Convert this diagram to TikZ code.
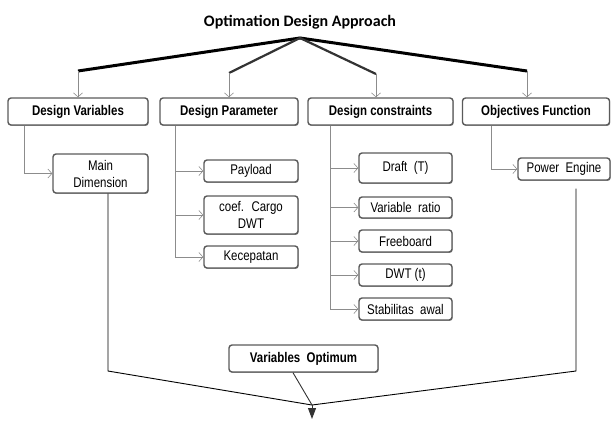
\documentclass[tikz,border=0pt]{standalone}
\usepackage{fontspec}
\newfontfamily\lblfont[FakeStretch=0.82]{Liberation Sans}
\newfontfamily\ttlfont{Carlito}
\usetikzlibrary{arrows.meta,calc,shadows}
\definecolor{boxline}{RGB}{90,90,90}
\definecolor{conn}{RGB}{140,140,140}
\tikzset{
  box/.style={draw=boxline, line width=1.4pt, rounded corners=3pt, fill=white,
    drop shadow={shadow xshift=0.7pt, shadow yshift=-0.9pt, fill=black!55, opacity=0.8},
    inner sep=0pt, align=center, font=\lblfont\fontsize{14}{17}\selectfont},
  hbox/.style={box, font=\lblfont\bfseries\fontsize{14}{17}\selectfont},
  garrow/.style={draw=conn, line width=0.6pt, -{Straight Barb[length=4pt,width=9pt]}},
  thickline/.style={draw=black, line width=3pt},
  midline/.style={draw=black!80, line width=2.2pt},
  botline/.style={draw=black, line width=0.9pt}
}
\begin{document}
\begin{tikzpicture}[x=1pt,y=-1pt]
\useasboundingbox (0,0) rectangle (612,420);
\node[font=\ttlfont\bfseries\fontsize{16}{19}\selectfont] (title) at (300,22) {Optimation Design Approach};
\coordinate (apex) at (300,38);
\coordinate (b1) at (78,71);
\coordinate (b2) at (229,73);
\coordinate (b3) at (376,74);
\coordinate (b4) at (527,71);
\draw[thickline] (b1) -- (apex) -- (b4);
\draw[midline] (b2) -- (apex) -- (b3);

\node[hbox, minimum width=140pt, minimum height=27pt] (dv) at (78,111.5) {Design Variables};
\node[hbox, minimum width=138pt, minimum height=27pt] (dp) at (229,111.5) {Design Parameter};
\node[hbox, minimum width=145pt, minimum height=27pt] (dc) at (380.5,111.5) {Design constraints};
\node[hbox, minimum width=147pt, minimum height=27pt] (of) at (536,111.5) {Objectives Function};

\draw[garrow] (b1) -- (dv.north);
\draw[garrow] (b2) -- (dp.north);
\draw[garrow] (b3) -- (b3 |- dc.north);
\draw[garrow] (b4) -- (b4 |- of.north);

\node[box, minimum width=95pt, minimum height=39pt] (md) at (100.5,173.5) {Main\\Dimension};

\node[box, minimum width=94pt, minimum height=22pt] (pay) at (251,171) {Payload};
\node[box, minimum width=94pt, minimum height=38pt] (coef) at (251,215) {coef.~ Cargo\\DWT};
\node[box, minimum width=94pt, minimum height=22pt] (kec) at (251,257) {Kecepatan};

\node[box, minimum width=93pt, minimum height=30pt] (draft) at (405.5,168) {Draft~ (T)};
\node[box, minimum width=93pt, minimum height=21pt] (vr) at (405.5,207.5) {Variable~ ratio};
\node[box, minimum width=93pt, minimum height=22pt] (fb) at (405.5,241) {Freeboard};
\node[box, minimum width=93pt, minimum height=22pt] (dwt) at (405.5,275) {DWT (t)};
\node[box, minimum width=93pt, minimum height=22pt] (stab) at (405.5,309) {Stabilitas~ awal};

\node[box, minimum width=92pt, minimum height=22pt] (pe) at (564,169) {Power~ Engine};

\node[hbox, minimum width=149pt, minimum height=27pt] (vo) at (303.5,358.5) {Variables~ Optimum};

% side connectors
\draw[garrow] ([xshift=17pt]dv.south west) |- (md.west);
\coordinate (dpx) at ([xshift=16pt]dp.south west);
\draw[draw=conn, line width=0.6pt] (dpx) -- (dpx |- kec.west);
\draw[garrow] (dpx) |- (pay.west);
\draw[garrow] (dpx) |- (coef.west);
\draw[garrow] (dpx) |- (kec.west);
\coordinate (dcx) at ([xshift=23pt]dc.south west);
\draw[draw=conn, line width=0.6pt] (dcx) -- (dcx |- stab.west);
\draw[garrow] (dcx) |- (draft.west);
\draw[garrow] (dcx) |- (vr.west);
\draw[garrow] (dcx) |- (fb.west);
\draw[garrow] (dcx) |- (dwt.west);
\draw[garrow] (dcx) |- (stab.west);
\draw[garrow] ([xshift=29pt]of.south west) |- (pe.west);

% bottom convergence
\coordinate (cl) at (108,371);
\coordinate (cr) at (576,371);
\coordinate (conv) at (312,405);
\coordinate (fin) at (312,419);
\draw[botline] ([xshift=7.5pt]md.south) -- (cl) -- (conv) -- (cr) -- ([xshift=12pt,yshift=-8pt]pe.south);
\draw[botline, draw=black!80] ([xshift=-10.5pt]vo.south) -- (conv);
\draw[botline, -{Triangle[length=11pt,width=8pt]}, draw=black!80, fill=black!80] (conv) -- (fin);
\end{tikzpicture}
\end{document}
